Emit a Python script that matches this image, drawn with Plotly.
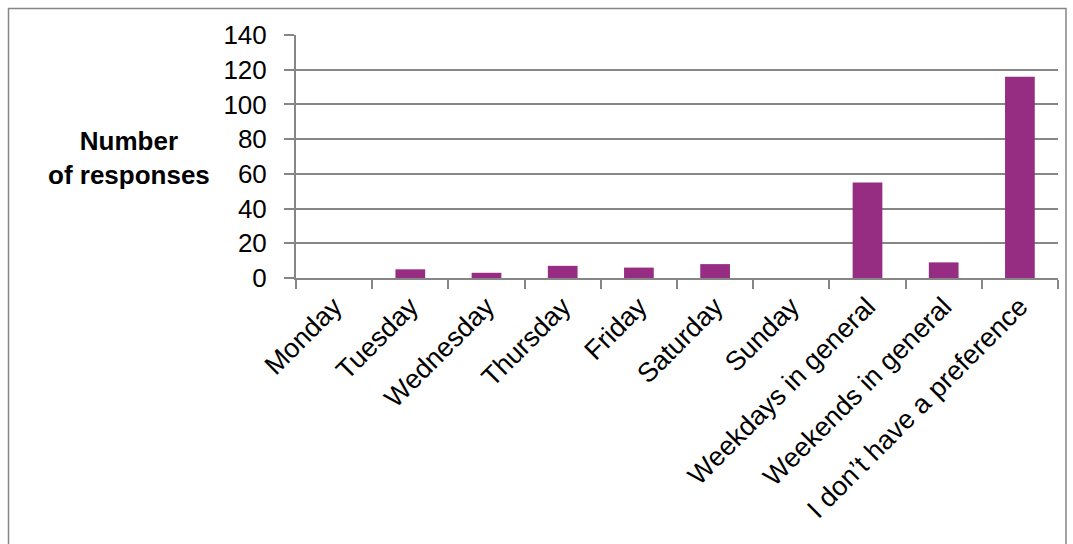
import plotly.graph_objects as go

categories = ["Monday", "Tuesday", "Wednesday", "Thursday", "Friday", "Saturday",
              "Sunday", "Weekdays in general", "Weekends in general",
              "I don\u2019t have a preference"]
responses = [0, 5, 3, 7, 6, 8, 0, 55, 9, 116]
y_ticks = [0, 20, 40, 60, 80, 100, 120, 140]

W, H = 1073, 544
L, R, T, B = 296, 15, 35, 266
pw, ph = W - L - R, H - T - B

fig = go.Figure(go.Bar(x=categories, y=responses, marker=dict(color="#962D82", line=dict(width=0)),
                       width=0.39))

fig.update_layout(
    width=W, height=H,
    margin=dict(l=L, r=R, t=T, b=B),
    paper_bgcolor="white", plot_bgcolor="white",
    font=dict(family="Liberation Sans, Arial", size=25, color="black"),
    showlegend=False,
    bargap=0.6,
)
fig.update_xaxes(
    tickangle=-45, showgrid=False, showline=True, linecolor="#868686", linewidth=2,
    ticks="outside", tickson="boundaries", ticklen=9, tickcolor="#868686", tickwidth=2,
    tickfont=dict(size=27),
)
fig.update_yaxes(
    range=[0, 140], tickvals=y_ticks, showgrid=True, gridcolor="#868686", gridwidth=2,
    showline=True, linecolor="#868686", linewidth=2, ticks="outside", ticklen=10,
    tickcolor="#868686", tickwidth=2, zeroline=False, tickfont=dict(size=26),
    ticklabelstandoff=12,
)

def px(x):
    return (x - L) / pw

def py(y):
    return (H - B - y) / ph

fig.add_annotation(text="<b>Number</b><br><b>of responses</b>", xref="paper", yref="paper",
                   x=px(129), y=py(158), showarrow=False, align="center",
                   font=dict(size=26, color="black"), xanchor="center", yanchor="middle")

fig.add_shape(type="rect", xref="paper", yref="paper",
              x0=px(8.5), x1=px(1066), y0=py(600), y1=py(8.5),
              line=dict(color="#868686", width=1.5), fillcolor="rgba(0,0,0,0)", layer="below")

fig.write_html("out.html")
